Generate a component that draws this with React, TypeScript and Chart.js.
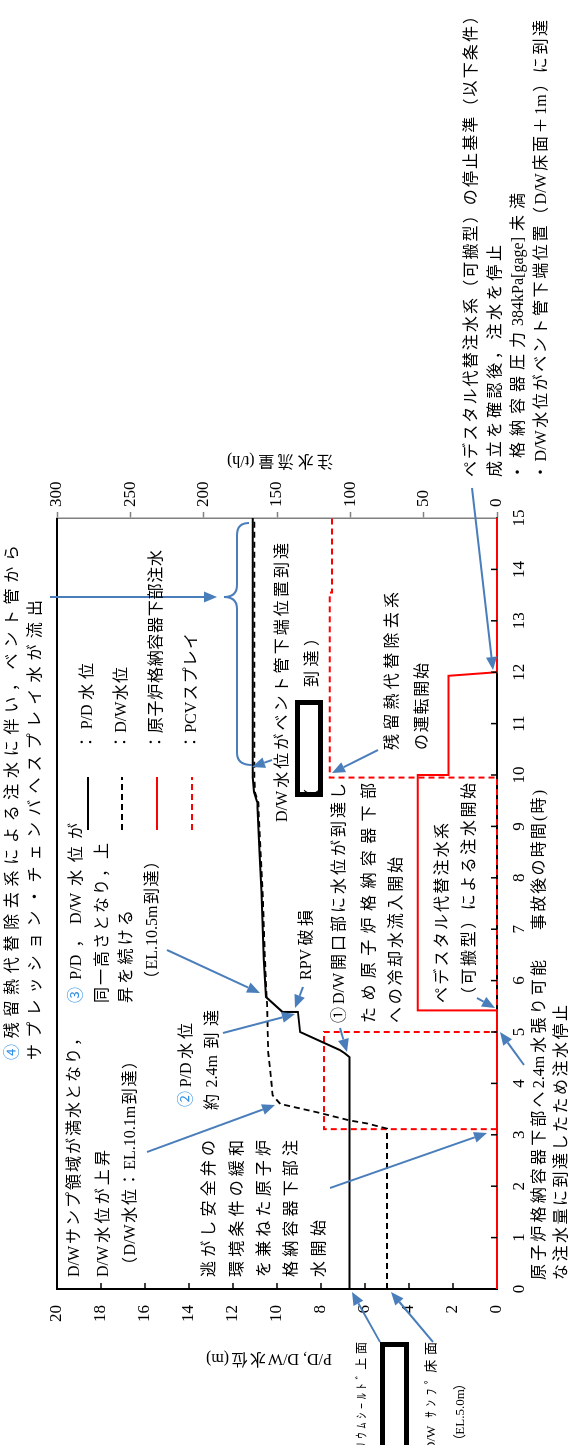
import { useEffect, useRef } from "react";
import { Chart, registerables } from "chart.js";

Chart.register(...registerables);

// ---------------- data ----------------
const timeTicks = [0, 1, 2, 3, 4, 5, 6, 7, 8, 9, 10, 11, 12, 13, 14, 15];
const levelTicks = [0, 2, 4, 6, 8, 10, 12, 14, 16, 18, 20];
const flowTicks = [0, 50, 100, 150, 200, 250, 300];

// P/D water level (m)
const pdTime = [0, 4.51, 4.58, 4.65, 5.0, 5.39, 5.39, 5.68, 6.42, 7.72, 8.5, 9.47, 9.67, 9.95, 15];
const pdLevel = [6.7, 6.7, 6.9, 7.15, 8.95, 9.05, 9.75, 10.5, 10.6, 10.7, 10.8, 10.9, 11.05, 11.1, 11.1];

// D/W water level (m)
const dwTime = [0, 3.12, 3.22, 3.28, 3.44, 3.6, 3.77, 4.22, 4.61, 5.53, 5.68, 6.42, 7.72, 8.5, 9.47, 9.67, 9.95, 15];
const dwLevel = [5.0, 5.0, 5.9, 6.7, 8.2, 9.85, 10.2, 10.3, 10.4, 10.45, 10.47, 10.55, 10.65, 10.75, 10.85, 11.0, 11.03, 11.03];

// Injection to lower PCV (t/h)
const lowerTime = [0, 5.42, 5.42, 10.0, 10.0, 11.93, 12.0, 15];
const lowerFlow = [0, 0, 54, 54, 33, 33, 0, 0];

// PCV spray (t/h)
const sprayTime = [0, 3.11, 3.11, 5.0, 5.0, 9.95, 9.95, 13.55, 13.55, 15];
const sprayFlow = [0, 0, 118, 118, 0, 0, 114, 114, 112.5, 112.5];

const seriesLabels = ["P/D水位", "D/W水位", "原子炉格納容器下部注水", "PCVスプレイ"];
const levelTitle = "P/D, D/W水位(m)";
const flowTitle = "注水流量(t/h)";
const timeTitle = "事故後の時間(時)";

// ---------------- annotation layout (canvas px, unrotated) ----------------
const JP = "'Liberation Serif', 'Noto Sans CJK JP', serif";
const NUM_BLUE = "#2f8fe6";
const ARROW_BLUE = "#4a7ebb";

type Note = [string, number, number | null, number, number?];
const notes: Note[] = [
  ["D/Wサンプ領域が満水となり，", 168, 415, 75],
  ["D/W水位が上昇", 168, 295, 104],
  ["（D/W水位：EL.10.1m到達）", 172, 392, 131],
  ["③P/D，D/W水位が", 442, 622, 77],
  ["同一高さとなり，上", 442, 602, 103],
  ["昇を続ける", 442, 535, 127],
  ["（EL.10.5m到達）", 458, 592, 153],
  ["②P/D水位", 338, 422, 187],
  ["約2.4m到達", 335, 435, 213],
  ["逃がし安全弁の", 168, 305, 210],
  ["環境条件の緩和", 168, 305, 238],
  ["を兼ねた原子炉", 168, 305, 265],
  ["格納容器下部注", 168, 305, 292],
  ["水開始", 168, 225, 320],
  ["RPV破損", 465, 535, 307],
  ["①D/W開口部に水位が到達し", 422, 662, 340],
  ["ため原子炉格納容器下部", 422, 662, 370],
  ["への冷却水流入開始", 422, 588, 397],
  ["ペデスタル代替注水系", 442, 622, 443],
  ["（可搬型）による注水開始", 442, 662, 470],
  ["D/W水位がベント管下端位置到達", 623, 902, 283],
  ["（", 640, null, 313],
  ["到達）", 758, 815, 313],
  ["残留熱代替除去系", 695, 853, 393],
  ["の運転開始", 695, 782, 423],
  ["：" + seriesLabels[0], 695, 782, 88],
  ["：" + seriesLabels[1], 695, 778, 122],
  ["：" + seriesLabels[2], 695, 895, 157],
  ["：" + seriesLabels[3], 695, 812, 192],
  ["ペデスタル代替注水系（可搬型）の停止基準（以下条件）", 968, 1437, 472],
  ["成立を確認後，注水を停止", 968, 1200, 496],
  ["・格納容器圧力384kPa[gage]未満", 965, 1252, 519],
  ["・D/W水位がベント管下端位置（D/W床面＋1m）に到達", 965, 1425, 542],
  ["④残留熱代替除去系による注水に伴い，ベント管から", 385, 900, 13],
  ["サプレッション・チェンバへスプレイ水が流出", 385, 845, 36],
  ["原子炉格納容器下部へ2.4m水張り可能", 165, 485, 540],
  ["な注水量に到達したため注水停止", 165, 440, 562],
  [timeTitle, 515, 655, 540],
  ["ｺﾘｳﾑｼｰﾙﾄﾞ上面", -13, 103, 363, 12],
  ["D/W ｻﾝﾌﾟ床面", -6, 103, 432, 13],
  ["（EL.5.0m）", -2, 68, 461, 13],
];

const arrows: [number, number, number, number][] = [
  [257, 330, 312, 487],
  [293, 147, 340, 275],
  [412, 223, 431, 295],
  [458, 303, 437, 295],
  [495, 167, 452, 260],
  [417, 340, 393, 347],
  [447, 477, 437, 495],
  [380, 524, 413, 500],
  [695, 378, 672, 332],
  [685, 272, 678, 252],
  [957, 472, 775, 493],
  [848, 50, 848, 217],
  [103, 380, 153, 352],
  [103, 433, 153, 391],
];

const isWide = (c: string) => c.charCodeAt(0) > 0x2000;

function drawFit(ctx: CanvasRenderingContext2D, text: string, x0: number, x1: number | null, y: number, size = 16) {
  ctx.font = `${size}px ${JP}`;
  ctx.textBaseline = "middle";
  ctx.textAlign = "left";
  const ch = Array.from(text);
  const w = ch.map((c) => ctx.measureText(c).width);
  const nat = w.reduce((a, b) => a + b, 0);
  let gaps = 0;
  for (let i = 0; i < ch.length - 1; i++) if (isWide(ch[i]) || isWide(ch[i + 1])) gaps++;
  let extra = 0;
  if (x1 != null && gaps > 0) extra = (x1 - x0 - nat) / gaps;
  if (extra < -2) extra = -2;
  let x = x0;
  for (let i = 0; i < ch.length; i++) {
    ctx.fillStyle = i === 0 && "②③④".includes(ch[i]) ? NUM_BLUE : "#000";
    ctx.fillText(ch[i], x, y);
    x += w[i];
    if (i < ch.length - 1 && (isWide(ch[i]) || isWide(ch[i + 1]))) x += extra;
  }
}

function drawArrow(ctx: CanvasRenderingContext2D, x0: number, y0: number, x1: number, y1: number) {
  const a = Math.atan2(y1 - y0, x1 - x0);
  const hl = 13, hw = 5.5;
  const bx = x1 - hl * Math.cos(a), by = y1 - hl * Math.sin(a);
  ctx.strokeStyle = ARROW_BLUE;
  ctx.fillStyle = ARROW_BLUE;
  ctx.lineWidth = 2;
  ctx.setLineDash([]);
  ctx.beginPath();
  ctx.moveTo(x0, y0);
  ctx.lineTo(bx, by);
  ctx.stroke();
  ctx.beginPath();
  ctx.moveTo(x1, y1);
  ctx.lineTo(bx + hw * Math.sin(a), by - hw * Math.cos(a));
  ctx.lineTo(bx - hw * Math.sin(a), by + hw * Math.cos(a));
  ctx.closePath();
  ctx.fill();
}

const notesPlugin = {
  id: "notes",
  afterDraw(chart: any) {
    const ctx: CanvasRenderingContext2D = chart.ctx;
    const { left, right, top, bottom } = chart.chartArea;
    const xs = chart.scales.x;
    const ys = chart.scales.y;
    ctx.save();
    // top frame
    ctx.strokeStyle = "#000";
    ctx.lineWidth = 2;
    ctx.beginPath();
    ctx.moveTo(left, top);
    ctx.lineTo(right, top);
    ctx.stroke();
    // inside tick marks
    ctx.lineWidth = 1.5;
    for (const v of timeTicks) {
      if (v <= timeTicks[0] || v >= timeTicks[timeTicks.length - 1]) continue;
      const px = xs.getPixelForValue(v);
      ctx.beginPath();
      ctx.moveTo(px, bottom);
      ctx.lineTo(px, bottom - 6);
      ctx.stroke();
    }
    for (const v of levelTicks) {
      if (v <= levelTicks[0] || v >= levelTicks[levelTicks.length - 1]) continue;
      const py = ys.getPixelForValue(v);
      ctx.beginPath();
      ctx.moveTo(left, py);
      ctx.lineTo(left + 6, py);
      ctx.stroke();
    }
    // legend samples
    const legend: [number, string, number[]][] = [
      [88, "#000", []],
      [122, "#000", [6, 4]],
      [157, "#ff0000", []],
      [192, "#ff0000", [6, 4]],
    ];
    for (const [y, c, d] of legend) {
      ctx.strokeStyle = c;
      ctx.lineWidth = 2;
      ctx.setLineDash(d);
      ctx.beginPath();
      ctx.moveTo(615, y);
      ctx.lineTo(668, y);
      ctx.stroke();
    }
    ctx.setLineDash([]);
    // boxes
    ctx.lineWidth = 5;
    ctx.strokeStyle = "#000";
    ctx.fillStyle = "#fff";
    ctx.fillRect(650, 297, 93, 24);
    ctx.strokeRect(650.5, 297.5, 92, 23);
    ctx.fillRect(-10, 382, 111, 25);
    ctx.strokeRect(-10, 382.5, 110.5, 24);
    // bracket
    ctx.strokeStyle = ARROW_BLUE;
    ctx.lineWidth = 2;
    ctx.beginPath();
    ctx.moveTo(680, 252);
    ctx.quadraticCurveTo(680, 237, 692, 237);
    ctx.lineTo(836, 237);
    ctx.quadraticCurveTo(848, 237, 848, 224);
    ctx.quadraticCurveTo(848, 237, 860, 237);
    ctx.lineTo(910, 237);
    ctx.quadraticCurveTo(922, 237, 922, 249);
    ctx.stroke();
    // arrows
    for (const [a, b, c, d] of arrows) drawArrow(ctx, a, b, c, d);
    // texts
    for (const [t, x0, x1, y, s] of notes) drawFit(ctx, t, x0, x1, y, s ?? 16);
    // axis titles (rotated)
    ctx.save();
    ctx.translate(87, (top + bottom) / 2 - 8);
    ctx.rotate(-Math.PI / 2);
    drawFit(ctx, levelTitle, -63, 63, 0, 16);
    ctx.restore();
    ctx.save();
    ctx.translate(985, (top + bottom) / 2 + 3);
    ctx.rotate(-Math.PI / 2);
    drawFit(ctx, flowTitle, -53, 53, 0, 16);
    ctx.restore();
    ctx.restore();
  },
};

const toXY = (xs: number[], ys: number[]) => xs.map((x, i) => ({ x, y: ys[i] }));
const tickFont = { family: "'Liberation Serif', serif", size: 17 };

export default function App() {
  const ref = useRef<HTMLCanvasElement>(null);
  useEffect(() => {
    if (!ref.current) return;
    const chart = new Chart(ref.current, {
      type: "line",
      data: {
        datasets: [
          { label: seriesLabels[0], data: toXY(pdTime, pdLevel), yAxisID: "y", borderColor: "#000", borderWidth: 2, pointRadius: 0, clip: false as any, tension: 0 },
          { label: seriesLabels[1], data: toXY(dwTime, dwLevel), yAxisID: "y", borderColor: "#000", borderWidth: 1.8, borderDash: [6, 4], pointRadius: 0, clip: false as any, tension: 0 },
          { label: seriesLabels[2], data: toXY(lowerTime, lowerFlow), yAxisID: "y2", borderColor: "#ff0000", borderWidth: 2, pointRadius: 0, clip: false as any, tension: 0 },
          { label: seriesLabels[3], data: toXY(sprayTime, sprayFlow), yAxisID: "y2", borderColor: "#ff0000", borderWidth: 2, borderDash: [6, 4], pointRadius: 0, clip: false as any, tension: 0 },
        ],
      },
      options: {
        animation: false,
        responsive: false,
        devicePixelRatio: 1,
        layout: { padding: { top: 57, left: 0, right: 0, bottom: 0 } },
        plugins: { legend: { display: false }, tooltip: { enabled: false } },
        scales: {
          x: {
            type: "linear",
            min: 0,
            max: 15,
            afterBuildTicks: (s: any) => { s.ticks = timeTicks.map((v) => ({ value: v })); },
            ticks: { font: tickFont, color: "#000", padding: 12, maxRotation: 0, autoSkip: false },
            grid: { drawOnChartArea: false, drawTicks: false },
            border: { color: "#000", width: 2 },
            afterFit: (s: any) => { s.height = 81; },
          },
          y: {
            type: "linear",
            position: "left",
            min: 0,
            max: 20,
            afterBuildTicks: (s: any) => { s.ticks = levelTicks.map((v) => ({ value: v })); },
            ticks: { font: tickFont, color: "#000", padding: 16 },
            grid: { drawOnChartArea: false, drawTicks: false },
            border: { color: "#000", width: 2 },
            afterFit: (s: any) => { s.width = 156; },
          },
          y2: {
            type: "linear",
            position: "right",
            min: 0,
            max: 300,
            afterBuildTicks: (s: any) => { s.ticks = flowTicks.map((v) => ({ value: v })); },
            ticks: { font: tickFont, color: "#000", padding: 5 },
            grid: { drawOnChartArea: false, drawTicks: true, tickLength: 6, color: "#808080", tickWidth: 1.5 },
            border: { color: "#808080", width: 1.5 },
            afterFit: (s: any) => { s.width = 518; },
          },
        },
      },
      plugins: [notesPlugin],
    } as any);
    let alive = true;
    (document as any).fonts?.ready?.then(() => { if (alive) chart.render(); });
    return () => { alive = false; chart.destroy(); };
  }, []);
  return (
    <div style={{ position: "absolute", left: 0, top: 0, width: 578, height: 1445, overflow: "hidden", background: "#fff" }}>
      <div style={{ position: "absolute", left: 0, top: 0, width: 1445, height: 578, transformOrigin: "0 0", transform: "translateY(1445px) rotate(-90deg)" }}>
        <canvas ref={ref} width={1445} height={578} style={{ width: 1445, height: 578, display: "block" }} />
      </div>
    </div>
  );
}
